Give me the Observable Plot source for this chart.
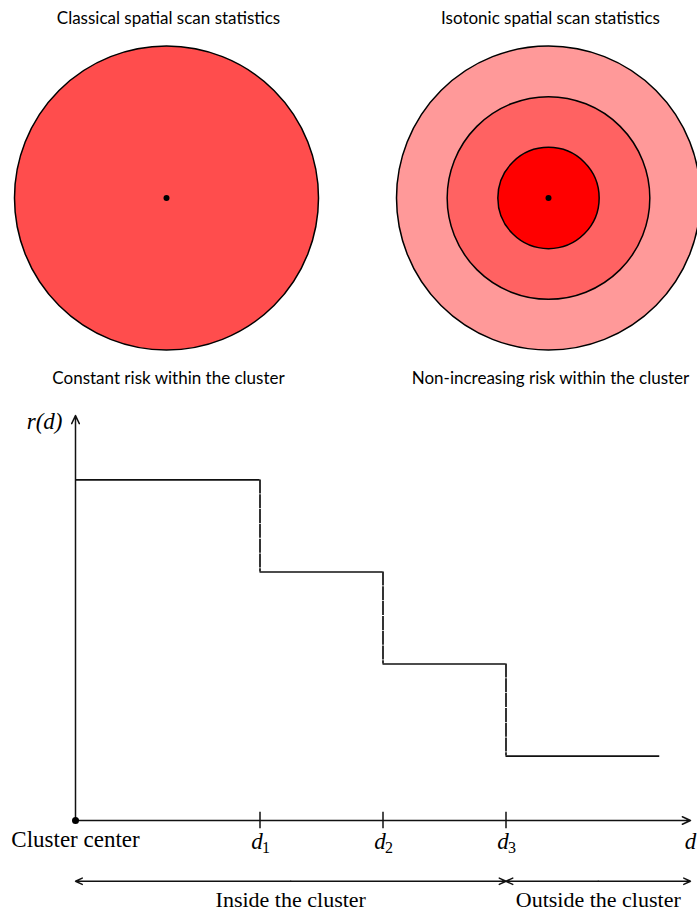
<!DOCTYPE html>
<html>
<head>
<meta charset="utf-8">
<script src="https://cdn.jsdelivr.net/npm/d3@7"></script>
<script src="https://cdn.jsdelivr.net/npm/@observablehq/plot@0.6"></script>
<style>
  html, body { margin: 0; padding: 0; background: #fff; }
  #chart { width: 697px; }
  #chart svg { display: block; }
</style>
</head>
<body>
<div id="chart"></div>
<script>
// ---- data ----
const panelTitles = ["Classical spatial scan statistics", "Isotonic spatial scan statistics"];
const panelCaptions = ["Constant risk within the cluster", "Non-increasing risk within the cluster"];
// concentric zones: panel index, radius (in zone units), risk level
const zonePanel = [0, 1, 1, 1];
const zoneRadius = [3, 3, 2, 1];
const zoneRisk = ["constant", "low", "medium", "high"];

// step function r(d)
const stepBreaks = [0, 1.5, 2.5, 3.5, 4.75];
const stepRisk = [3.7, 2.7, 1.7, 0.7];
const tickNames = ["1", "2", "3"]; // subscripts of d at stepBreaks[1..3]
const regionNames = ["Inside the cluster", "Outside the cluster"];
const regionBounds = [[0, 3.5], [3.5, 5]];
const axisMax = {d: 5, r: 4.4};

const zones = zoneRadius.map((radius, i) => ({panel: zonePanel[i], radius, risk: zoneRisk[i]}));

const SANS = "Lato, 'Open Sans', sans-serif";
const SERIF = "'Liberation Serif', 'DejaVu Serif', serif";
const INK = "#111";

// ---- top: circles ----
const topPlot = Plot.plot({
  width: 697,
  height: 395,
  margin: 0,
  x: {domain: [0, 1], range: [166, 548], axis: null},
  r: {type: "linear", domain: [0, 3], range: [0, 152]},
  color: {type: "ordinal", domain: ["constant", "low", "medium", "high"],
          range: ["#ff4d4d", "#ff9999", "#ff6262", "#ff0000"]},
  marks: [
    Plot.dot(zones, {x: "panel", r: "radius", fill: "risk", stroke: "black", strokeWidth: 1.5}),
    Plot.dot([0, 1], {x: d => d, r: 3, fill: "black"}),
    Plot.text(panelTitles, {x: (d, i) => i, text: d => d, frameAnchor: "top", lineAnchor: "middle", dy: 18, dx: 2,
      fontFamily: SANS, fontSize: 17, fill: "black"}),
    Plot.text(panelCaptions, {x: (d, i) => i, text: d => d, frameAnchor: "bottom", lineAnchor: "middle", dy: -17, dx: 2,
      fontFamily: SANS, fontSize: 17, fill: "black"})
  ]
});

// ---- bottom: step function ----
const horiz = stepRisk.map((r, i) => ({x1: stepBreaks[i], x2: stepBreaks[i + 1], r}));
const vert = stepRisk.slice(1).map((r, i) => ({d: stepBreaks[i + 1], r1: stepRisk[i], r2: r}));
const ticks = tickNames.map((n, i) => ({d: stepBreaks[i + 1], name: n}));
const regions = regionNames.map((name, i) => ({name, x1: regionBounds[i][0], x2: regionBounds[i][1],
  mid: (regionBounds[i][0] + regionBounds[i][1]) / 2}));
// each region bracket drawn as two arrows from its middle outward
const bracketArrows = regions.flatMap(r => [{from: r.mid, to: r.x1}, {from: r.mid, to: r.x2}]);
const bracketLevel = -0.66;
const tickHalf = 0.09;

const bottomPlot = Plot.plot({
  width: 697,
  height: 517,
  margin: 0,
  x: {domain: [0, axisMax.d], range: [75, 690], axis: null},
  y: {domain: [0, axisMax.r], range: [425, 20], axis: null},
  marks: [
    // axes
    Plot.arrow([{x1: 0, y1: 0, x2: axisMax.d, y2: 0}], {x1: "x1", y1: "y1", x2: "x2", y2: "y2",
      stroke: INK, strokeWidth: 1.5, headLength: 9, headAngle: 50}),
    Plot.arrow([{x1: 0, y1: 0, x2: 0, y2: axisMax.r}], {x1: "x1", y1: "y1", x2: "x2", y2: "y2",
      stroke: INK, strokeWidth: 1.5, headLength: 9, headAngle: 50}),
    // tick marks
    Plot.ruleX(ticks, {x: "d", y1: -tickHalf, y2: tickHalf, stroke: INK, strokeWidth: 1.5}),
    // step function
    Plot.ruleY(horiz, {y: "r", x1: "x1", x2: "x2", stroke: INK, strokeWidth: 1.7}),
    Plot.ruleX(vert, {x: "d", y1: "r1", y2: "r2", stroke: INK, strokeWidth: 1.7, strokeDasharray: "14,0.8"}),
    // origin
    Plot.dot([0], {x: 0, y: 0, r: 3.5, fill: "black"}),
    // labels
    Plot.text(["Cluster center"], {x: 0, y: 0, dy: 19, text: d => d, fontFamily: SERIF, fontSize: 23, fill: "black"}),
    Plot.text(ticks, {x: "d", y: 0, dy: 21, dx: -3, text: () => "d", fontFamily: SERIF, fontStyle: "italic", fontSize: 23, fill: "black"}),
    Plot.text(ticks, {x: "d", y: 0, dy: 27, dx: 6, text: "name", fontFamily: SERIF, fontSize: 16, fill: "black"}),
    Plot.text(["d"], {x: axisMax.d, y: 0, dy: 21, dx: 0, text: d => d, fontFamily: SERIF, fontStyle: "italic", fontSize: 23, fill: "black"}),
    Plot.text(["r(d)"], {x: 0, y: axisMax.r, dx: -13, dy: 6, textAnchor: "end", text: d => d, fontFamily: SERIF, fontStyle: "italic", fontSize: 23, fill: "black"}),
    // region brackets
    Plot.arrow(bracketArrows, {x1: "from", x2: "to", y1: bracketLevel, y2: bracketLevel,
      stroke: INK, strokeWidth: 1.4, headLength: 8, headAngle: 50}),
    Plot.text(regions, {x: "mid", y: bracketLevel, dy: 19, text: "name",
      fontFamily: SERIF, fontSize: 22, fill: "black"})
  ]
});

const chart = document.getElementById("chart");
chart.appendChild(topPlot);
chart.appendChild(bottomPlot);
</script>
</body>
</html>
